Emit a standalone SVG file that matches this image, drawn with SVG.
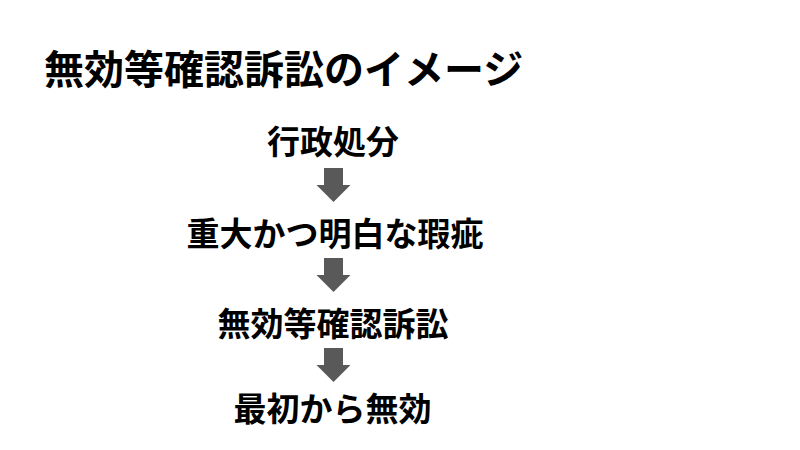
<svg xmlns="http://www.w3.org/2000/svg" width="800" height="450" viewBox="0 0 800 450">
<defs>
<style>
text{font-family:"Noto Sans CJK JP","Noto Sans CJK SC",sans-serif;font-weight:bold;fill:#000}
.title{font-size:40px}
.node{font-size:33px;text-anchor:middle}
.arrow{fill:#595959}
</style>
<path id="dn" class="arrow" d="M-9.5,0 H9.5 V17 H17 L0,34 L-17,17 H-9.5 Z"/>
</defs>
<rect width="800" height="450" fill="#fff"/>
<text class="title" x="44" y="84">無効等確認訴訟のイメージ</text>
<g id="n1"><text class="node" x="333" y="154">行政処分</text></g>
<g id="n2"><text class="node" x="335" y="246">重大かつ明白な瑕疵</text></g>
<g id="n3"><text class="node" x="333" y="336">無効等確認訴訟</text></g>
<g id="n4"><text class="node" x="332.5" y="421">最初から無効</text></g>
<g id="connectors">
<use href="#dn" x="333.5" y="168"/>
<use href="#dn" x="333.5" y="258"/>
<use href="#dn" x="333.5" y="348"/>
</g>
</svg>
